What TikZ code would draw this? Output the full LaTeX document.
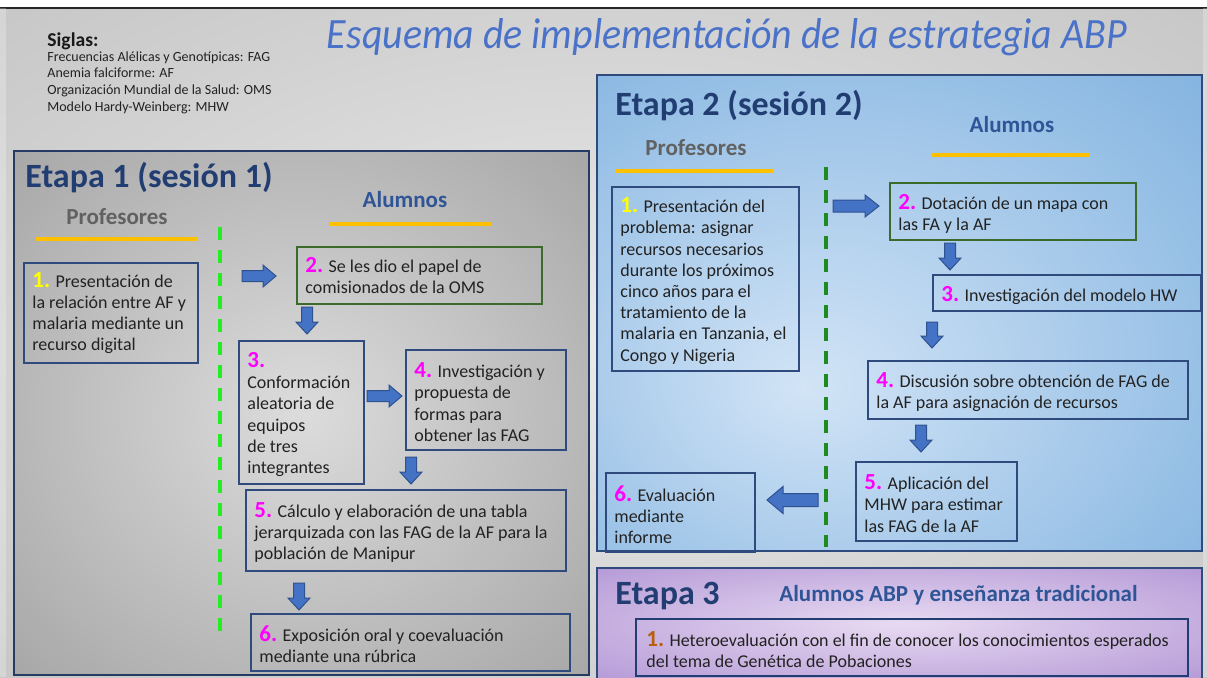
\documentclass[tikz,border=0pt]{standalone}
\usepackage{fontspec}
\usepackage{graphicx}
\setmainfont{Carlito}
\usetikzlibrary{arrows.meta}
\definecolor{navy}{HTML}{213D72}
\definecolor{alum}{HTML}{2F5597}
\definecolor{boxblue}{HTML}{2F4A7C}
\definecolor{arrowblue}{HTML}{4472C4}
\definecolor{arrowedge}{HTML}{2F528F}
\definecolor{titleblue}{HTML}{4A72C8}
\definecolor{orangeline}{HTML}{FFC000}
\definecolor{magentanum}{HTML}{FF00FF}
\definecolor{yellownum}{HTML}{FFFF00}
\definecolor{brownnum}{HTML}{B9600F}
\definecolor{greenbox}{HTML}{3A6B2A}
\definecolor{brightgreen}{HTML}{22EE22}
\definecolor{darkgreen}{HTML}{1F8A1F}
\definecolor{bgin}{HTML}{EAEAEA}
\definecolor{bgout}{HTML}{B4B4B4}
\definecolor{einone}{HTML}{DCDCDC}
\definecolor{eoutone}{HTML}{8A8A8A}
\definecolor{eintwo}{HTML}{D2E4F6}
\definecolor{eouttwo}{HTML}{5B9BD5}
\definecolor{einthree}{HTML}{E8DAF2}
\definecolor{eoutthree}{HTML}{9A78C8}
\definecolor{bodytext}{HTML}{222222}
\pgfdeclareradialshading{shbg}{\pgfpoint{0bp}{0bp}}{color(0bp)=(bgin); color(55bp)=(bgout)}
\pgfdeclareradialshading{shone}{\pgfpoint{0bp}{0bp}}{color(0bp)=(einone); color(55bp)=(eoutone)}
\pgfdeclareradialshading{shtwo}{\pgfpoint{-8bp}{-8bp}}{color(0bp)=(eintwo); color(60bp)=(eouttwo)}
\pgfdeclareradialshading{shthree}{\pgfpoint{0bp}{0bp}}{color(0bp)=(einthree); color(55bp)=(eoutthree)}
\newcommand\nm[2]{{\color{#1}\fontsize{11.5}{10.5}\selectfont\bfseries #2}}
\newcommand\blockarrow[7]{%
  \filldraw[blockarr,shift={(#1,#2)},rotate=#3] (0,-#5) -- (#4-#7,-#5) -- (#4-#7,-#6) -- (#4,0) -- (#4-#7,#6) -- (#4-#7,#5) -- (0,#5) -- cycle;}
\tikzset{
  px/.style={x=0.5pt,y=-0.5pt},
  stepbox/.style={draw=boxblue,line width=1pt,anchor=north west,inner sep=0pt},
  greenstep/.style={draw=greenbox,line width=1pt,anchor=north west,inner sep=0pt},
  txt/.style={font=\fontsize{9}{10.6}\selectfont,align=left,text=bodytext,anchor=west,inner sep=0pt},
  blockarr/.style={fill=arrowblue,draw=arrowedge,line width=0.5pt,line join=miter},
  etapa/.style={font=\fontsize{17}{18}\selectfont\bfseries,text=navy,anchor=west,inner sep=0pt},
  prof/.style={font=\fontsize{11.5}{12}\selectfont\bfseries,text=black!62,inner sep=0pt},
  alumn/.style={font=\fontsize{11.5}{12}\selectfont\bfseries,text=alum,inner sep=0pt},
  oline/.style={draw=orangeline,line width=2pt},
  frame/.style={line width=1pt},
}
\begin{document}
\begin{tikzpicture}[px]
\useasboundingbox (0,0) rectangle (1207,677);
% background
\shade[shading=shbg] (0,8) rectangle (1207,677);
\fill[white] (0,0) rectangle (1207,7);
\draw[black!85,line width=1pt] (0,7.5) -- (1207,7.5);
\fill[white,opacity=0.25] (0,8) rectangle (6,677);
\fill[white,opacity=0.25] (1203,8) rectangle (1207,677);
% Siglas
\node[anchor=base west,inner sep=0pt,font=\fontsize{9.8}{10}\selectfont\bfseries,text=black!90] (siglas) at (47,46) {Siglas:};
\node[anchor=north west,inner sep=0pt,align=left,font=\fontsize{7}{8.4}\selectfont,text=bodytext] (siglastxt) at (47,51) {Frecuencias Alélicas y Genotípicas: FAG\\Anemia falciforme: AF\\Organización Mundial de la Salud: OMS\\Modelo Hardy-Weinberg: MHW};
% title
\node[anchor=base,inner sep=0pt,text=titleblue] (title) at (727,48) {\resizebox{400pt}{15pt}{\itshape Esquema de implementación de la estrategia ABP}};

% ===== Etapa 1 =====
\shade[shading=shone] (14,151) rectangle (589,675);
\draw[frame,draw=boxblue!80!black] (14,151) rectangle (589,675);
\node[etapa] (e1) at (25,178) {Etapa 1 (sesión 1)};
\node[prof] (p1) at (117,217) {Profesores};
\draw[oline] (36,239) -- (197,239);
\node[alumn] (a1) at (405,200) {Alumnos};
\draw[oline] (329,224) -- (491,224);
\draw[draw=brightgreen,line width=1.6pt,dash pattern=on 6.5pt off 5pt] (220,227) -- (220,636);

\node[stepbox,minimum width=87pt,minimum height=50pt] (b11) at (23,262) {};
\node[txt] (b11t) at ([xshift=4.5pt]b11.west) {\nm{yellownum}{1.} Presentación de\\la relación entre AF y\\malaria mediante un\\recurso digital};
\node[greenstep,minimum width=122.5pt,minimum height=28.5pt] (b12) at (296,246) {};
\node[txt] (b12t) at ([xshift=4.5pt]b12.west) {\nm{magentanum}{2.} Se les dio el papel de\\comisionados de la OMS};
\node[stepbox,minimum width=62.5pt,minimum height=71.5pt] (b13) at (238,340) {};
\node[txt] (b13t) at ([xshift=4.5pt,yshift=-1pt]b13.west) {\nm{magentanum}{3.}\\Conformación\\aleatoria de\\equipos\\de tres\\integrantes};
\node[stepbox,minimum width=80pt,minimum height=50pt] (b14) at (405,349) {};
\node[txt] (b14t) at ([xshift=4.5pt,yshift=-1pt]b14.west) {\nm{magentanum}{4.} Investigación y\\propuesta de\\formas para\\obtener las FAG};
\node[stepbox,minimum width=160pt,minimum height=40.5pt] (b15) at (245,489) {};
\node[txt] (b15t) at ([xshift=4.5pt,yshift=-1pt]b15.west) {\nm{magentanum}{5.} Cálculo y elaboración de una tabla\\jerarquizada con las FAG de la AF para la\\población de Manipur};
\node[stepbox,minimum width=159.5pt,minimum height=28.5pt] (b16) at (250,613) {};
\node[txt] (b16t) at ([xshift=4.5pt,yshift=-1pt]b16.west) {\nm{magentanum}{6.} Exposición oral y coevaluación\\mediante una rúbrica};

\blockarrow{242}{276}{0}{34}{5.5}{11}{13}
\blockarrow{307}{307}{-90}{27}{5.5}{11}{12}
\blockarrow{367}{396}{0}{35}{5.5}{11}{13}
\blockarrow{411}{457}{-90}{27}{5.5}{11}{12}
\blockarrow{299}{583}{-90}{27}{5.5}{11}{12}

% ===== Etapa 2 =====
\shade[shading=shtwo] (597,75) rectangle (1202,551);
\draw[frame,draw=boxblue] (597,75) rectangle (1202,551);
\node[etapa] (e2) at (615,106) {Etapa 2 (sesión 2)};
\node[prof] (p2) at (696,148) {Profesores};
\draw[oline] (615,171) -- (773,171);
\node[alumn] (a2) at (1012,125) {Alumnos};
\draw[oline] (932,155) -- (1090,155);
\draw[draw=darkgreen,line width=1.6pt,dash pattern=on 6.5pt off 5pt] (826,167) -- (826,547);

\node[stepbox,minimum width=93.5pt,minimum height=92pt] (b21) at (611,186) {};
\node[txt] (b21t) at ([xshift=4.5pt,yshift=-1pt]b21.west) {\nm{yellownum}{1.} Presentación del\\problema: asignar\\recursos necesarios\\durante los próximos\\cinco años para el\\tratamiento de la\\malaria en Tanzania, el\\Congo y Nigeria};
\node[greenstep,minimum width=123pt,minimum height=28.5pt] (b22) at (889,182) {};
\node[txt] (b22t) at ([xshift=4.5pt,yshift=-1pt]b22.west) {\nm{magentanum}{2.} Dotación de un mapa con\\las FA y la AF};
\node[stepbox,minimum width=134pt,minimum height=18pt] (b23) at (932,274) {};
\node[txt] (b23t) at ([xshift=4.5pt,yshift=-1pt]b23.west) {\nm{magentanum}{3.} Investigación del modelo HW};
\node[stepbox,minimum width=160pt,minimum height=29pt] (b24) at (867,360) {};
\node[txt] (b24t) at ([xshift=4.5pt,yshift=-1pt]b24.west) {\nm{magentanum}{4.} Discusión sobre obtención de FAG de\\la AF para asignación de recursos};
\node[stepbox,minimum width=80.5pt,minimum height=39.5pt] (b25) at (855,461) {};
\node[txt] (b25t) at ([xshift=4.5pt,yshift=-1pt]b25.west) {\nm{magentanum}{5.} Aplicación del\\MHW para estimar\\las FAG de la AF};
\node[stepbox,minimum width=74.5pt,minimum height=39.5pt] (b26) at (605,472) {};
\node[txt] (b26t) at ([xshift=4.5pt,yshift=-1pt]b26.west) {\nm{magentanum}{6.} Evaluación\\mediante\\informe};

\blockarrow{833}{206}{0}{46}{6}{11}{14}
\blockarrow{950}{243}{-90}{27}{5.5}{11}{12}
\blockarrow{932}{322}{-90}{26}{5.5}{11}{12}
\blockarrow{921}{425}{-90}{27}{5.5}{11}{12}
\blockarrow{818}{500}{180}{51}{6.5}{13.5}{16}

% ===== Etapa 3 =====
\shade[shading=shthree] (597,568) rectangle (1202,679);
\draw[frame,draw=boxblue] (597,568) rectangle (1202,679);
\node[etapa] (e3) at (615,596) {Etapa 3};
\node[alumn,anchor=west] (a3) at (779,595) {Alumnos ABP y enseñanza tradicional};
\node[stepbox,draw=navy,minimum width=276pt,minimum height=28.5pt] (b31) at (635,618) {};
\node[txt] (b31t) at ([xshift=5.5pt,yshift=-1pt]b31.west) {\nm{brownnum}{1.} Heteroevaluación con el fin de conocer los conocimientos esperados\\del tema de Genética de Pobaciones};
\end{tikzpicture}
\end{document}
